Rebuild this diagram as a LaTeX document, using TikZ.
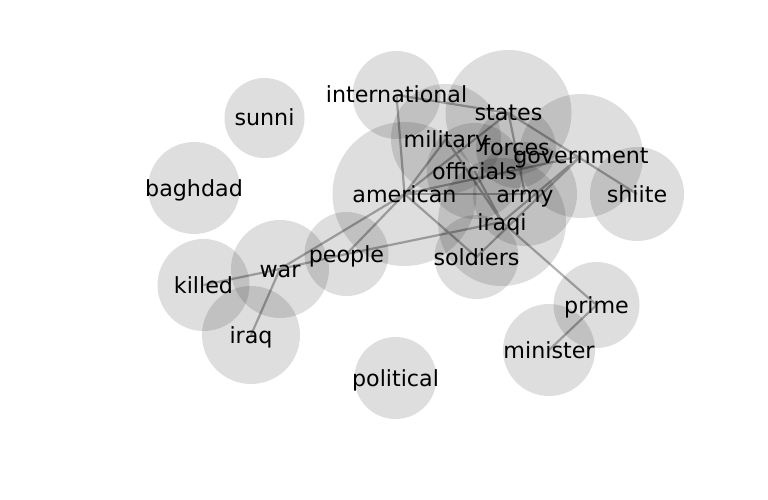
\documentclass[tikz,border=0pt]{standalone}
\usepackage{fontspec}
\setmainfont{DejaVu Sans}
\begin{document}
\begin{tikzpicture}[x=1pt,y=-1pt,
  bubble/.style={circle,fill=black,fill opacity=0.13,draw=none,inner sep=0pt,minimum size=#1},
  wordlabel/.style={anchor=base,inner sep=0pt,font=\fontsize{22.2}{26}\selectfont},
  link/.style={draw=black!30,line width=2.2pt}]
\useasboundingbox (0,0) rectangle (768,500);
% centres
\coordinate (sunni) at (264.5,118);
\coordinate (baghdad) at (194,188);
\coordinate (international) at (396.5,95);
\coordinate (states) at (508.5,113);
\coordinate (military) at (446,139);
\coordinate (forces) at (516,148);
\coordinate (government) at (581,156);
\coordinate (officials) at (474.5,171);
\coordinate (american) at (404.5,194);
\coordinate (army) at (525,194);
\coordinate (shiite) at (637,194);
\coordinate (iraqi) at (502,222);
\coordinate (soldiers) at (476.5,257);
\coordinate (people) at (346.5,254);
\coordinate (war) at (280,269);
\coordinate (killed) at (203.5,285);
\coordinate (iraq) at (251,335);
\coordinate (prime) at (596.5,305);
\coordinate (minister) at (549,350);
\coordinate (political) at (395.5,378);
% edges
\draw[link] (international) -- (american);
\draw[link] (international) -- (states);
\draw[link] (states) -- (shiite);
\draw[link] (states) -- (army);
\draw[link] (military) -- (american);
\draw[link] (military) -- (iraqi);
\draw[link] (american) -- (states);
\draw[link] (american) -- (government);
\draw[link] (american) -- (army);
\draw[link] (american) -- (war);
\draw[link] (american) -- (people);
\draw[link] (american) -- (soldiers);
\draw[link] (officials) -- (iraqi);
\draw[link] (government) -- (iraqi);
\draw[link] (government) -- (soldiers);
\draw[link] (iraqi) -- (prime);
\draw[link] (prime) -- (minister);
\draw[link] (people) -- (iraqi);
\draw[link] (war) -- (people);
\draw[link] (war) -- (killed);
\draw[link] (war) -- (iraq);
% bubbles
\node[bubble=80pt] (b-sunni) at (sunni) {};
\node[bubble=92pt] (b-baghdad) at (baghdad) {};
\node[bubble=88pt] (b-international) at (international) {};
\node[bubble=126pt] (b-states) at (states) {};
\node[bubble=110pt] (b-military) at (military) {};
\node[bubble=80pt] (b-forces) at (forces) {};
\node[bubble=124pt] (b-government) at (government) {};
\node[bubble=96pt] (b-officials) at (officials) {};
\node[bubble=144pt] (b-american) at (american) {};
\node[bubble=104pt] (b-army) at (army) {};
\node[bubble=94pt] (b-shiite) at (shiite) {};
\node[bubble=128pt] (b-iraqi) at (iraqi) {};
\node[bubble=84pt] (b-soldiers) at (soldiers) {};
\node[bubble=84pt] (b-people) at (people) {};
\node[bubble=98pt] (b-war) at (war) {};
\node[bubble=92pt] (b-killed) at (killed) {};
\node[bubble=98pt] (b-iraq) at (iraq) {};
\node[bubble=86pt] (b-prime) at (prime) {};
\node[bubble=92pt] (b-minister) at (minister) {};
\node[bubble=82pt] (b-political) at (political) {};
% labels
\node[wordlabel] (t-sunni) at ([yshift=-8pt]sunni) {sunni};
\node[wordlabel] (t-baghdad) at ([yshift=-8pt]baghdad) {baghdad};
\node[wordlabel] (t-international) at ([yshift=-8pt]international) {international};
\node[wordlabel] (t-states) at ([yshift=-8pt]states) {states};
\node[wordlabel] (t-military) at ([yshift=-8pt]military) {military};
\node[wordlabel] (t-forces) at ([yshift=-8pt]forces) {forces};
\node[wordlabel] (t-government) at ([yshift=-8pt]government) {government};
\node[wordlabel] (t-officials) at ([yshift=-8pt]officials) {officials};
\node[wordlabel] (t-american) at ([yshift=-8pt]american) {american};
\node[wordlabel] (t-army) at ([yshift=-8pt]army) {army};
\node[wordlabel] (t-shiite) at ([yshift=-8pt]shiite) {shiite};
\node[wordlabel] (t-iraqi) at ([yshift=-8pt]iraqi) {iraqi};
\node[wordlabel] (t-soldiers) at ([yshift=-8pt]soldiers) {soldiers};
\node[wordlabel] (t-people) at ([yshift=-8pt]people) {people};
\node[wordlabel] (t-war) at ([yshift=-8pt]war) {war};
\node[wordlabel] (t-killed) at ([yshift=-8pt]killed) {killed};
\node[wordlabel] (t-iraq) at ([yshift=-8pt]iraq) {iraq};
\node[wordlabel] (t-prime) at ([yshift=-8pt]prime) {prime};
\node[wordlabel] (t-minister) at ([yshift=-8pt]minister) {minister};
\node[wordlabel] (t-political) at ([yshift=-8pt]political) {political};
\end{tikzpicture}
\end{document}
